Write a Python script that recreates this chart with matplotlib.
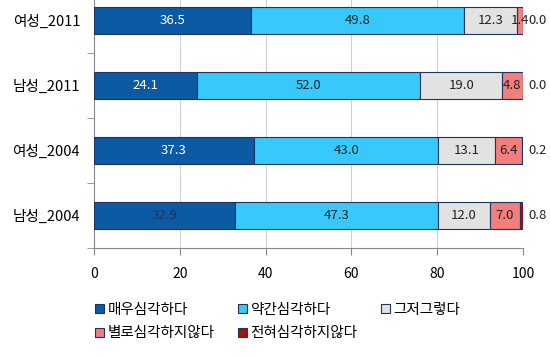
import matplotlib
matplotlib.use("Agg")
import matplotlib.pyplot as plt
from matplotlib.patches import Patch
import numpy as np

plt.rcParams['font.family'] = ['Noto Sans CJK KR', 'DejaVu Sans']

categories = ['여성_2011', '남성_2011', '여성_2004', '남성_2004']
series_names = ['매우심각하다', '약간심각하다', '그저그렇다', '별로심각하지않다', '전혀심각하지않다']
very = [36.5, 24.1, 37.3, 32.9]
somewhat = [49.8, 52.0, 43.0, 47.3]
neutral = [12.3, 19.0, 13.1, 12.0]
not_much = [1.4, 4.8, 6.4, 7.0]
not_at_all = [0.0, 0.0, 0.2, 0.8]
xticks = [0, 20, 40, 60, 80, 100]

series = [very, somewhat, neutral, not_much, not_at_all]
colors = ['#0B5AA3', '#38C9FB', '#E2E2E2', '#F37E7E', '#A50E0E']
edge = '#1F3560'

fig = plt.figure(figsize=(5.5, 3.57), dpi=100)
ax = fig.add_axes([94/550, 1-248/357, (523-94)/550, 260/357])

y = np.arange(len(categories))
left = np.zeros(len(categories))
h = 0.41
first_label_colors = ['white', 'white', 'white', '#1F3560']
for si, (vals, c) in enumerate(zip(series, colors)):
    vals = np.array(vals)
    ax.barh(y, vals, left=left, height=h, color=c, edgecolor=edge, linewidth=0.8, zorder=3)
    for i, v in enumerate(vals):
        if si == 4:
            ax.annotate(f'{v:.1f}', xy=(100, y[i]), xytext=(4, 0), textcoords='offset points',
                        ha='left', va='center', fontsize=9.5, color='#222222', zorder=5)
        else:
            col = first_label_colors[i] if si == 0 else '#222222'
            ax.text(left[i] + v/2, y[i], f'{v:.1f}', ha='center', va='center',
                    fontsize=9.5, color=col, zorder=5)
    left += vals

ax.set_xlim(0, 100)
ax.set_ylim(len(categories) - 0.5, -0.5)
ax.set_xticks(xticks)
ax.set_xticklabels([str(t) for t in xticks], fontsize=10)
ax.set_yticks(y)
ax.set_yticklabels(categories, fontsize=10.5)
ax.set_yticks(np.arange(len(categories)) + 0.5, minor=True)
ax.tick_params(axis='y', which='major', length=0, pad=10)
ax.tick_params(axis='y', which='minor', length=5, color='#888888', direction='out')
ax.tick_params(axis='x', length=5, color='#888888', direction='out', pad=9)
ax.grid(axis='x', color='#D0D0D0', linewidth=0.8, zorder=0)
for s in ['top', 'right']:
    ax.spines[s].set_visible(False)
for s in ['left', 'bottom']:
    ax.spines[s].set_color('#888888')

handles = [Patch(facecolor=c, edgecolor=edge, linewidth=0.8) for c in colors]
columns = [[0, 3], [1, 4], [2]]
col_x = [95, 238, 381]
for xs, idxs in zip(col_x, columns):
    fig.legend([handles[i] for i in idxs], [series_names[i] for i in idxs],
               ncol=1, loc='upper left', bbox_to_anchor=(xs/550, 1-303/357),
               frameon=False, fontsize=10.5, handlelength=0.6, handleheight=0.6,
               handletextpad=0.25, labelspacing=0.65, borderpad=0, borderaxespad=0)

fig.savefig('out.png', dpi=100)
